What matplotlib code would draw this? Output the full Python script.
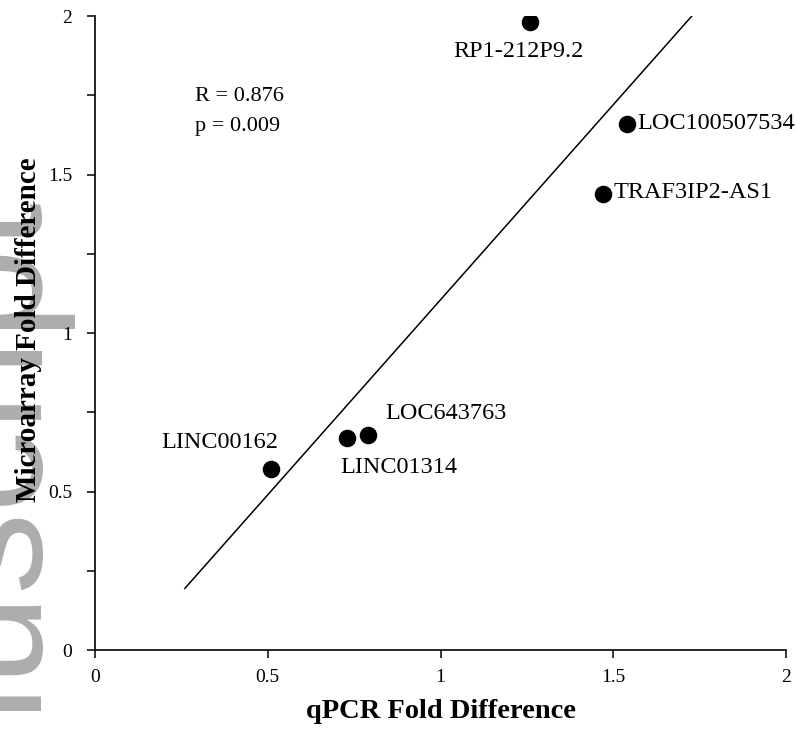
import numpy as np
import matplotlib
matplotlib.use('Agg')
import matplotlib.pyplot as plt
from matplotlib.ticker import MultipleLocator

# values
genes = ['LINC00162', 'LINC01314', 'LOC643763', 'TRAF3IP2-AS1', 'LOC100507534', 'RP1-212P9.2']
qpcr = np.array([0.51, 0.73, 0.79, 1.47, 1.54, 1.26])
microarray = np.array([0.57, 0.67, 0.68, 1.44, 1.66, 1.98])
fit_range = [0.26, 1.73]
stats_text = ['R = 0.876', 'p = 0.009']
watermark = 'NIH-PA Author Manuscript'

# label anchor (data units) and alignment for each gene
label_pos = {
    'LINC00162': (0.53, 0.655, 'right'),
    'LINC01314': (0.71, 0.575, 'left'),
    'LOC643763': (0.84, 0.745, 'left'),
    'TRAF3IP2-AS1': (1.50, 1.445, 'left'),
    'LOC100507534': (1.57, 1.662, 'left'),
    'RP1-212P9.2': (1.225, 1.89, 'center'),
}

plt.rcParams['font.family'] = ['Liberation Serif', 'DejaVu Serif']

fig = plt.figure(figsize=(7.95, 7.34), dpi=100)
ax = fig.add_axes([0.1195, 0.1144, 0.8692, 0.8636])

# gray margin watermark, mostly cut off at the left edge, behind everything
fig.text(0.053, 0.725, watermark, rotation=90, rotation_mode='anchor',
         ha='right', va='baseline', fontsize=118, color='#adadad',
         family='Liberation Sans', zorder=-1)

ax.scatter(qpcr, microarray, s=135, color='black', zorder=3)

slope, intercept = np.polyfit(qpcr, microarray, 1)
xs = np.array(fit_range)
ax.plot(xs, slope * xs + intercept, color='black', lw=1.1, zorder=2)

for g in genes:
    x, y, ha = label_pos[g]
    ax.text(x, y, g, ha=ha, va='center', fontsize=17.5)

ax.text(0.29, 1.748, stats_text[0], ha='left', va='center', fontsize=16)
ax.text(0.29, 1.653, stats_text[1], ha='left', va='center', fontsize=16)

ax.set_xlim(0, 2)
ax.set_ylim(0, 2)
ax.xaxis.set_major_locator(MultipleLocator(0.5))
ax.yaxis.set_major_locator(MultipleLocator(0.5))
ax.yaxis.set_minor_locator(MultipleLocator(0.25))
ax.xaxis.set_major_formatter(plt.FuncFormatter(lambda v, p: f'{v:g}'))
ax.yaxis.set_major_formatter(plt.FuncFormatter(lambda v, p: f'{v:g}'))

for side in ['top', 'right']:
    ax.spines[side].set_visible(False)
for side in ['left', 'bottom']:
    ax.spines[side].set_linewidth(1.2)

ax.tick_params(which='both', direction='out', length=6, width=1.1, labelsize=14)
ax.tick_params(axis='x', pad=8)
ax.tick_params(axis='y', pad=10.5)
ax.patch.set_alpha(0)

ax.set_xlabel('qPCR Fold Difference', fontsize=20.5, fontweight='bold', labelpad=9)
ax.set_ylabel('Microarray Fold Difference', fontsize=21, fontweight='bold')
ax.yaxis.set_label_coords(-0.077, 0.505)

fig.savefig('out.png', dpi=100)
